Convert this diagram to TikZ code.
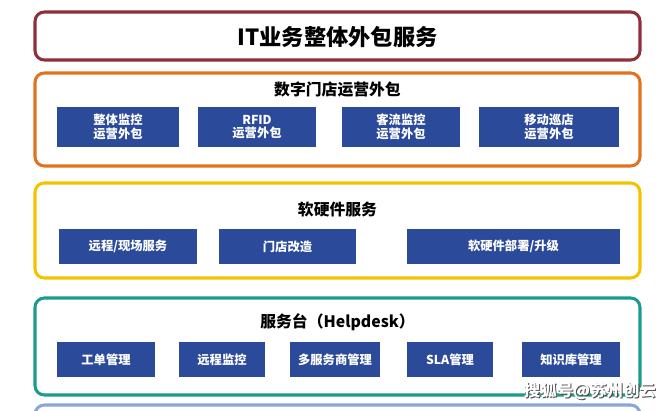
\documentclass[tikz,border=0pt]{standalone}
\usepackage{fontspec}
\setmainfont{Noto Sans CJK SC}
\definecolor{frameRed}{HTML}{8E2F3A}
\definecolor{frameOrange}{HTML}{E2731E}
\definecolor{frameYellow}{HTML}{F4C300}
\definecolor{frameTeal}{HTML}{1B9A8F}
\definecolor{frameBlue}{HTML}{8AA6D8}
\definecolor{cellBlue}{HTML}{2B4A9A}
\tikzstyle{group}=[rounded corners=8pt, line width=2.6pt, fill=white]
\tikzstyle{cell}=[draw=none, fill=cellBlue, text=white, font=\fontsize{10.5}{11.5}\selectfont\bfseries, align=center, inner sep=0pt]
\tikzstyle{heading}=[font=\fontsize{13.5}{14}\selectfont\bfseries]
\tikzstyle{stamp}=[font=\fontsize{14}{15}\selectfont\bfseries, anchor=east]

\begin{document}
\begin{tikzpicture}[x=0.03cm, y=-0.03cm]
  \useasboundingbox (0,0) rectangle (668,410);
  \begin{scope}
    \clip (0,0) rectangle (668,410);
    \draw[group, draw=frameBlue] (35,405) rectangle (640,460);
  \end{scope}
  % top banner
  \draw[group, draw=frameRed] (35,12) rectangle (640,60);
  \node[font=\fontsize{19}{20}\selectfont\bfseries] (it) at (337.5,37) {IT业务整体外包服务};
  % digital store
  \draw[group, draw=frameOrange] (35,73) rectangle (640,166);
  \node[heading] (store) at (337.5,90) {数字门店运营外包};
  \node[cell, minimum width=122*0.03cm, minimum height=40*0.03cm] (s1) at (118,127) {整体监控\\运营外包};
  \node[cell, minimum width=118*0.03cm, minimum height=40*0.03cm] (s2) at (257,127) {RFID\\运营外包};
  \node[cell, minimum width=118*0.03cm, minimum height=40*0.03cm] (s3) at (401,127) {客流监控\\运营外包};
  \node[cell, minimum width=140*0.03cm, minimum height=40*0.03cm] (s4) at (549,127) {移动巡店\\运营外包};
  % hardware and software
  \draw[group, draw=frameYellow] (35,183) rectangle (640,278);
  \node[heading] (hw) at (337.5,209) {软硬件服务};
  \node[cell, minimum width=138*0.03cm, minimum height=35*0.03cm] (h1) at (128,246.5) {远程/现场服务};
  \node[cell, minimum width=137*0.03cm, minimum height=35*0.03cm] (h2) at (287.5,246.5) {门店改造};
  \node[cell, minimum width=213*0.03cm, minimum height=35*0.03cm] (h3) at (513.5,246.5) {软硬件部署/升级};
  % helpdesk
  \draw[group, draw=frameTeal] (35,298) rectangle (640,395);
  \node[heading] (desk) at (337.5,322) {服务台（Helpdesk）};
  \node[cell, minimum width=98*0.03cm, minimum height=35*0.03cm] (d1) at (106,359.5) {工单管理};
  \node[cell, minimum width=86*0.03cm, minimum height=35*0.03cm] (d2) at (222,359.5) {远程监控};
  \node[cell, minimum width=90*0.03cm, minimum height=35*0.03cm] (d3) at (335,359.5) {多服务商管理};
  \node[cell, minimum width=86*0.03cm, minimum height=35*0.03cm] (d4) at (450,359.5) {SLA管理};
  \node[cell, minimum width=98*0.03cm, minimum height=35*0.03cm] (d5) at (571,359.5) {知识库管理};
  % watermark
  \node[stamp, text=black!70] (markshade) at (661,392) {搜狐号@苏州创云};
  \node[stamp, text=white] (mark) at (660,391) {搜狐号@苏州创云};
\end{tikzpicture}
\end{document}
